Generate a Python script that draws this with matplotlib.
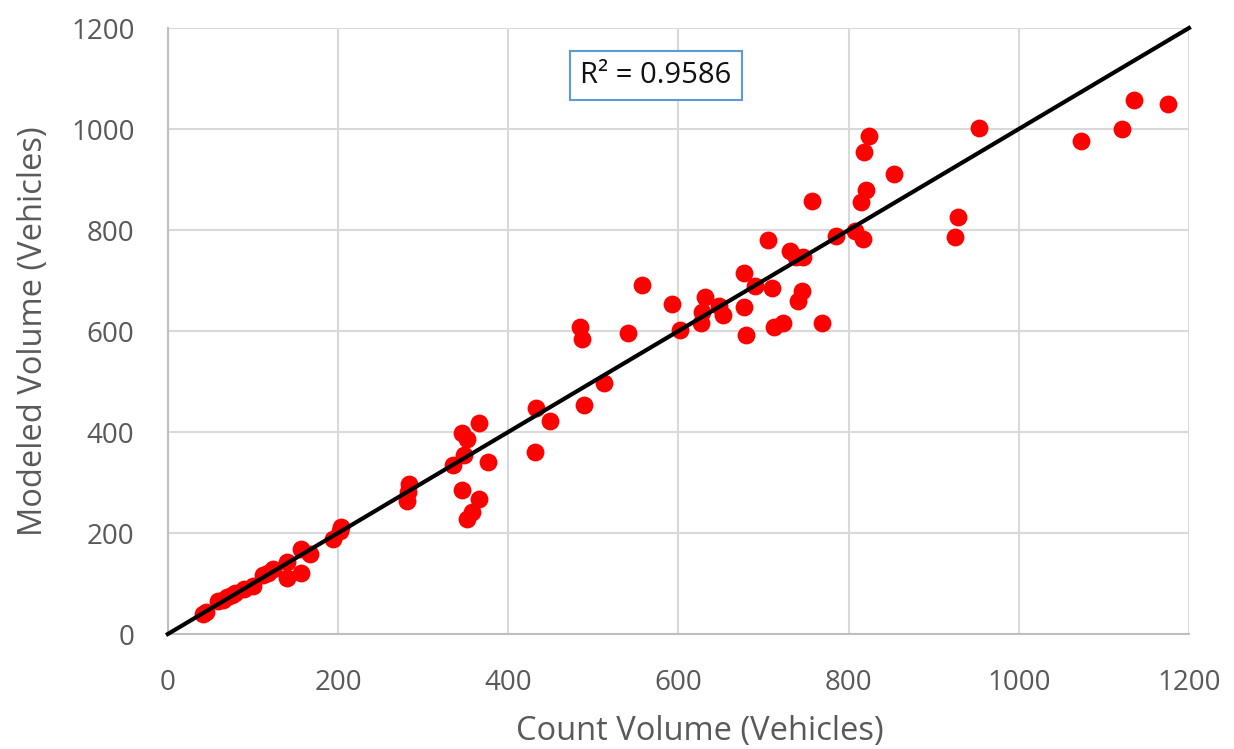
import matplotlib
matplotlib.use('Agg')
from matplotlib import pyplot as plt
import numpy as np

# count volume vs modeled volume (vehicles)
count_vol = [41, 45, 59, 65, 69, 75, 79, 89, 100, 112, 118, 124, 140, 140, 157, 157, 167, 194, 202, 204,
             281, 282, 284, 335, 346, 348, 346, 351, 351, 357, 366, 366, 376,
             431, 433, 449, 484, 487, 489, 512, 541, 557, 593, 602,
             627, 628, 631, 648, 652, 677, 677, 680, 690, 705, 710, 712, 723, 731, 738, 741, 745, 746,
             757, 769, 785, 807, 815, 817, 820, 818, 824, 853, 925, 928, 953, 1073, 1121, 1136, 1175]
model_vol = [40, 44, 66, 68, 74, 78, 81, 90, 95, 117, 120, 128, 110, 143, 121, 168, 158, 189, 204, 212,
             264, 282, 298, 335, 285, 354, 399, 386, 227, 242, 268, 417, 341,
             361, 447, 422, 608, 584, 453, 498, 597, 692, 653, 603,
             615, 637, 667, 649, 632, 714, 648, 592, 689, 780, 686, 607, 615, 759, 746, 660, 679, 747,
             857, 615, 788, 799, 856, 783, 879, 955, 986, 910, 787, 825, 1002, 977, 1001, 1058, 1050]
r2 = 0.9586

plt.rcParams['font.family'] = ['Open Sans', 'DejaVu Sans']

fig = plt.figure(figsize=(12.34, 7.49), dpi=100)
ax = fig.add_axes([0.136, 0.1535, 0.8275, 0.8091])

ax.set_xlim(0, 1200)
ax.set_ylim(0, 1200)
ticks = np.arange(0, 1201, 200)
ax.set_xticks(ticks)
ax.set_yticks(ticks)
ax.grid(True, color='#d9d9d9', linewidth=1.5, zorder=0)
ax.set_axisbelow(True)
ax.tick_params(length=0, labelsize=20, colors='#595959')
ax.tick_params(axis='y', pad=24)
ax.tick_params(axis='x', pad=25)
for s in ['top', 'right']:
    ax.spines[s].set_visible(False)
for s in ['left', 'bottom']:
    ax.spines[s].set_color('#bfbfbf')
    ax.spines[s].set_linewidth(1.5)

ax.scatter(count_vol, model_vol, s=165, color='#ff0000', zorder=3, linewidths=0)
ax.plot([0, 1200], [0, 1200], color='black', linewidth=3, zorder=4, clip_on=False)

ax.text(0.478, 0.922, 'R\u00b2 = ' + str(r2), transform=ax.transAxes, fontsize=21,
        ha='center', va='center', color='#111111',
        bbox=dict(boxstyle='square,pad=0.35', facecolor='white', edgecolor='#5b9bd5', linewidth=1.5))

ax.set_xlabel('Count Volume (Vehicles)', fontsize=23.5, color='#595959', labelpad=13, x=0.521)
ax.set_ylabel('Modeled Volume (Vehicles)', fontsize=23.5, color='#595959', labelpad=15)

plt.savefig('out.png', dpi=100)
